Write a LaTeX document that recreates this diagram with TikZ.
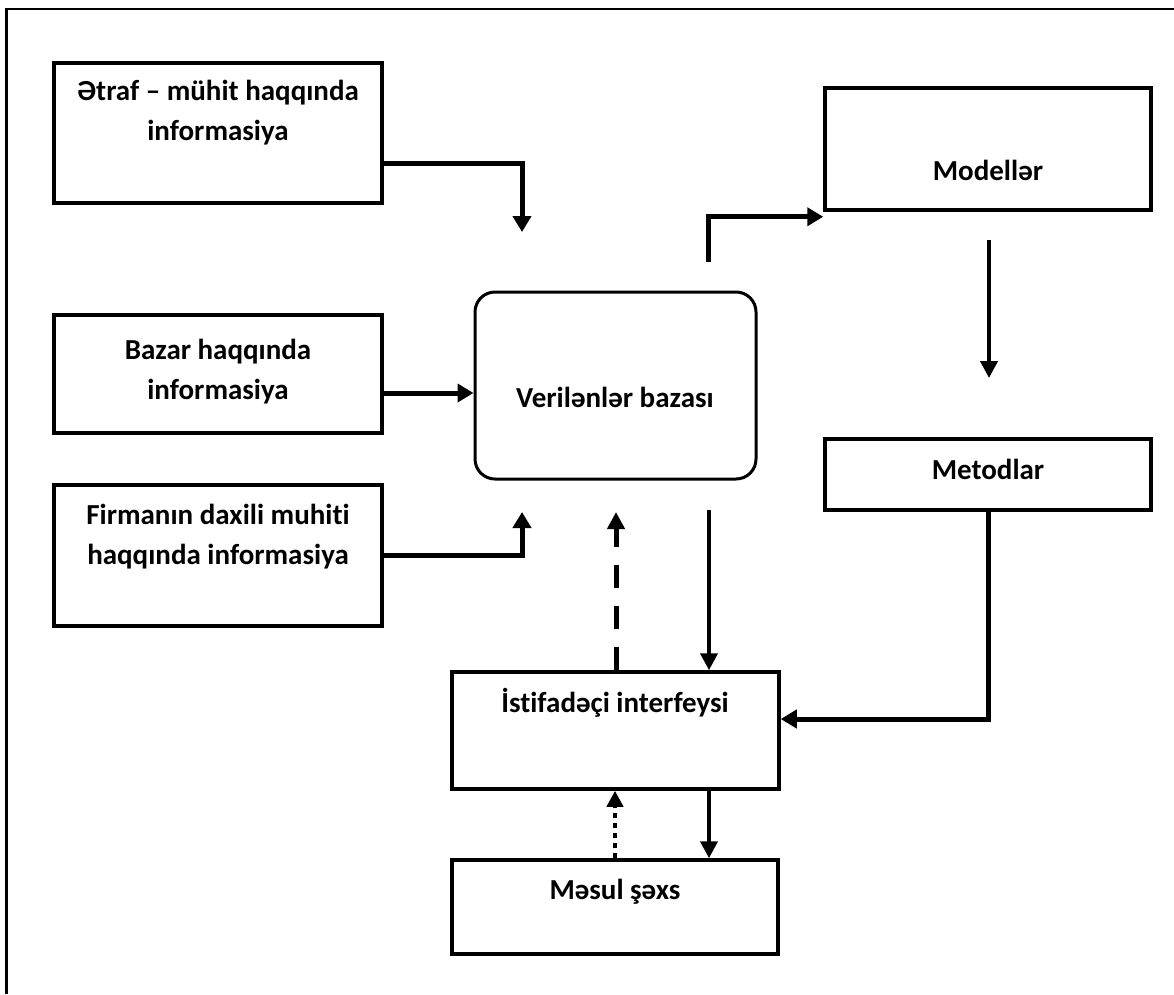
\documentclass[tikz,border=0pt]{standalone}
\usepackage{fontspec}
\setmainfont{Carlito}[Ligatures={NoCommon}]
\usetikzlibrary{arrows.meta}
\begin{document}
\begin{tikzpicture}[x=1pt,y=-1pt,
  box/.style={draw, line width=3.5pt, rectangle, inner sep=0pt},
  lbl/.style={font=\fontsize{29}{40}\selectfont\bfseries, align=center, inner sep=0pt},
  flow/.style={line width=5pt, -{Triangle[width=18pt,length=16pt]}},
  thinflow/.style={line width=4pt, -{Triangle[width=17pt,length=17pt]}},
  dashflow/.style={line width=5pt, dash pattern=on 23pt off 18pt, -{Triangle[width=17pt,length=17pt]}},
  dotflow/.style={line width=4pt, dash pattern=on 5pt off 5pt, -{Triangle[width=16pt,length=16pt]}},
]
\useasboundingbox (0,0) rectangle (1174,994);
\fill[white] (0,0) rectangle (1174,994);
% outer frame
\draw[line width=2.5pt] (6.5,994) -- (6.5,9) -- (1174,9);

% boxes
\node[box, minimum width=328pt, minimum height=140pt] (b1) at (218,133) {};
\node[box, minimum width=328pt, minimum height=118pt] (b2) at (218,374) {};
\node[box, minimum width=328pt, minimum height=141pt] (b3) at (218,555.5) {};
\node[box, line width=3pt, rounded corners=20pt, minimum width=281pt, minimum height=187pt] (db) at (615.5,385.5) {};
\node[box, minimum width=326pt, minimum height=122pt] (mod) at (988,149) {};
\node[box, minimum width=326pt, minimum height=71pt] (met) at (988,474.5) {};
\node[box, minimum width=327pt, minimum height=117pt] (ui) at (615.5,730.5) {};
\node[box, minimum width=326pt, minimum height=94pt] (ms) at (615,907) {};

% labels
\node[lbl] (l1) at (218,113) {Ətraf – mühit haqqında\\informasiya};
\node[lbl] (l2) at (218,372) {Bazar haqqında\\informasiya};
\node[lbl] (l3) at (218,537) {Firmanın daxili muhiti\\haqqında informasiya};
\node[lbl] (l4) at (615,397) {Verilənlər bazası};
\node[lbl] (l5) at (988,170) {Modellər};
\node[lbl] (l6) at (988,469) {Metodlar};
\node[lbl] (l7) at (615,703) {İstifadəçi interfeysi};
\node[lbl] (l8) at (615,892) {Məsul şəxs};

% free connector ends
\coordinate (t1) at (522,232);
\coordinate (t3) at (522,512);
\coordinate (s4) at (708,262);
\coordinate (s5) at (989,240);
\coordinate (t5) at (989,378);
\coordinate (s6) at (709,510);
\coordinate (t7) at (616,512);
\coordinate (b1o) at ([yshift=-30pt]b1.east);
\coordinate (b2o) at ([yshift=-19pt]b2.east);
\coordinate (uin) at ([yshift=11.5pt]ui.east);
\coordinate (modc) at ([yshift=-5pt]mod.south west);

% connectors
\draw[flow] (b1o) -| (t1);
\draw[flow] (b2o) -- (b2o -| db.west);
\draw[flow] (b3.east) -| (t3);
\draw[flow] (s4) |- (modc);
\draw[thinflow] (s5) -- (t5);
\draw[flow] (met.south) |- (uin);
\draw[thinflow] (s6) -- (s6 |- ui.north);
\draw[dashflow] (t7 |- ui.north) -- (t7);
\draw[dotflow] (ms.north) -- (ms.north |- ui.south);
\draw[thinflow] (ui.south -| s6) -- (ms.north -| s6);
\end{tikzpicture}
\end{document}
